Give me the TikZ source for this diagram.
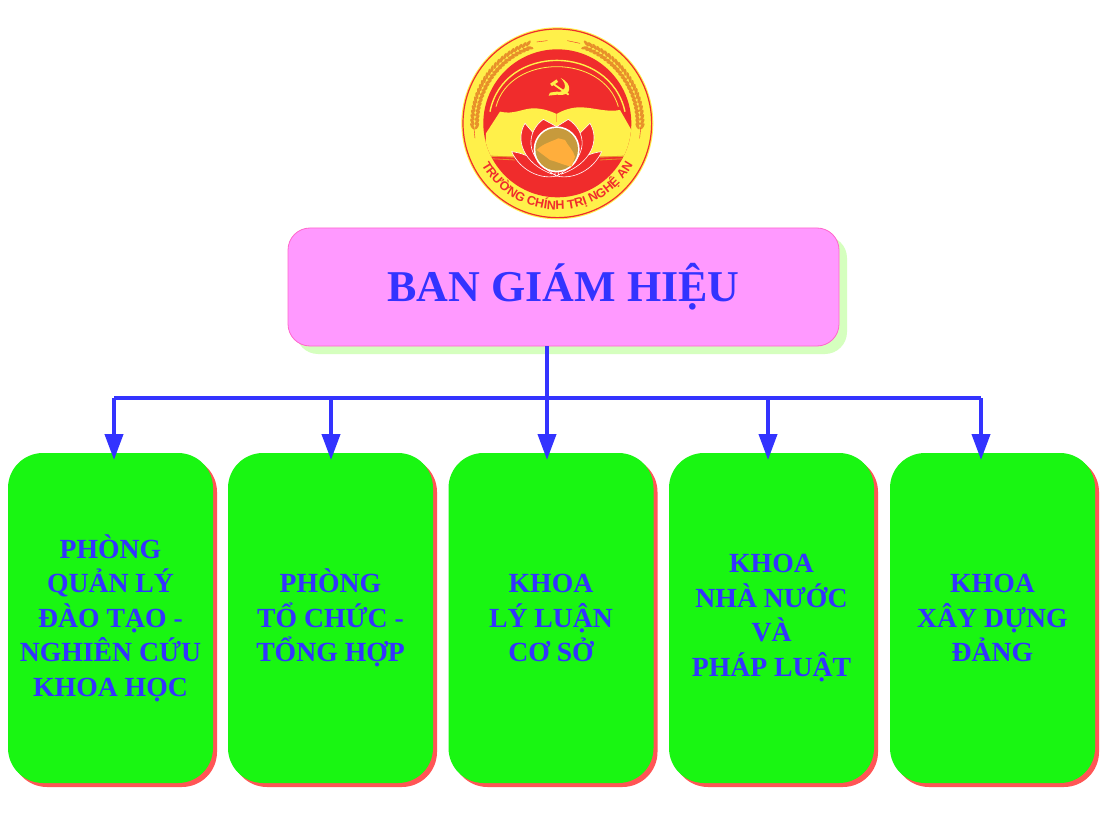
\documentclass[tikz,border=0pt]{standalone}
\usepackage{fontspec}
\setmainfont{Liberation Serif}
\newfontfamily\logofont{Liberation Sans}
\usetikzlibrary{arrows.meta,shadows,decorations.text}

\definecolor{boxgreen}{HTML}{19F612}
\definecolor{boxred}{HTML}{FF5555}
\definecolor{boxpink}{HTML}{FF99FF}
\definecolor{boxedge}{HTML}{FF66CC}
\definecolor{boxblue}{HTML}{3333FF}
\definecolor{palegreen}{HTML}{D5FFBE}
\definecolor{logored}{HTML}{F02C2C}
\definecolor{logoyellow}{HTML}{FFF04A}
\definecolor{logogold}{HTML}{C79A3C}
\definecolor{logoorange}{HTML}{FFAE3C}
\definecolor{logowheat}{HTML}{E8902A}

\def\logoring{(352,370) circle (288)}
\def\logoinner{(352,370) circle (222)}
\def\logoglobe{(350,448) circle (64)}

\tikzset{
  headbox/.style={draw=boxedge, line width=0.8pt, fill=boxpink, rounded corners=22pt,
    minimum width=551pt, minimum height=118pt, text=boxblue,
    font=\fontsize{44}{50}\selectfont\bfseries,
    general shadow={fill=palegreen, shadow xshift=8pt, shadow yshift=-8pt}},
  unitbox/.style={fill=boxgreen, rounded corners=35pt, minimum width=205pt, minimum height=330pt,
    text=boxblue, align=center, inner sep=0pt,
    font=\fontsize{27.7}{34.5}\selectfont\bfseries,
    general shadow={fill=boxred, shadow xshift=4pt, shadow yshift=-4pt}},
  busline/.style={draw=boxblue, line width=4pt, line cap=square},
  dropline/.style={draw=boxblue, line width=4pt, -{Triangle[length=26pt,width=18pt]}},
  petal/.style={fill=logored, draw=white, line width=0.6pt},
}

\begin{document}
\begin{tikzpicture}[x=1pt,y=1pt]
  \useasboundingbox[fill=white] (0,0) rectangle (1102,-826);

  % logo
  \begin{scope}[shift={(440,0)},x=0.3333pt,y=-0.3333pt]
    \fill[logoyellow] \logoring;
    \draw[logored, line width=1.2pt] (352,370) circle (283);
    \fill[logored] \logoinner;
    \begin{scope}
      \clip \logoinner;
      \draw[logoyellow, line width=1.4pt] (150,335) .. controls (190,130) and (510,130) .. (555,335);
      \draw[logoyellow, line width=0.8pt] (168,320) .. controls (210,160) and (490,160) .. (535,320);
      % open book
      \fill[logoyellow] (138,400) -- (180,335) .. controls (220,345) and (250,325) .. (280,325)
        .. controls (310,325) and (335,335) .. (350,342) .. controls (370,330) and (395,322) .. (420,322)
        .. controls (460,322) and (500,338) .. (540,330) -- (580,400) -- (570,470) -- (135,470) -- cycle;
      \draw[logowheat, line width=0.8pt] (150,468) -- (225,472) (150,476) -- (225,480)
        (555,468) -- (480,472) (555,476) -- (480,480);
    \end{scope}
    \draw[logoorange, line width=1pt] (350,342) -- (350,366);
    % lotus
    \draw[petal] (215,455) .. controls (280,462) and (320,510) .. (350,528) .. controls (300,540) and (240,510) .. (215,455) -- cycle;
    \draw[petal] (485,455) .. controls (420,462) and (380,510) .. (350,528) .. controls (400,540) and (460,510) .. (485,455) -- cycle;
    \draw[petal] (255,370) .. controls (225,420) and (250,490) .. (335,522) -- (285,405) -- cycle;
    \draw[petal] (450,370) .. controls (480,420) and (455,490) .. (365,522) -- (415,405) -- cycle;
    \draw[petal] (310,358) .. controls (260,395) and (250,470) .. (345,525) -- (350,380) -- cycle;
    \draw[petal] (385,358) .. controls (440,395) and (450,470) .. (355,525) -- (350,380) -- cycle;
    \fill[white] (350,448) circle (69);
    \fill[logogold] \logoglobe;
    \fill[logoorange] (290,450) .. controls (310,430) and (335,425) .. (355,415) -- (375,420)
      .. controls (385,440) and (400,450) .. (405,470) -- (395,500) .. controls (370,495) and (350,485) .. (330,480) -- cycle;
    % hammer and sickle
    \draw[logoyellow, line width=1.8pt] (340,252) -- (386,284);
    \draw[logoyellow, line width=3pt] (333,255) -- (352,242);
    \fill[logoyellow] (362,234) .. controls (398,250) and (398,292) .. (352,284) -- (326,287) -- (330,278)
      -- (350,275) .. controls (375,280) and (385,255) .. (362,234) -- cycle;
    % wheat
    \foreach \s in {1,-1}{
      \foreach \a in {20,23,...,92}{
        \fill[logowheat, rotate around={\s*\a:(352,370)}, shift={(352,115)}, rotate=\s*30] (0,0) ellipse (11 and 4.5);
        \fill[logowheat, rotate around={\s*\a:(352,370)}, shift={(352,129)}, rotate=-\s*30] (0,0) ellipse (11 and 4.5);
      }
    }
    \draw[logored, line width=0.4pt] (290,126) -- (322,122) (382,122) -- (420,130)
      (102,385) -- (105,415) (602,385) -- (599,415);
    \path[decorate, decoration={text along path, text align=center,
      text={|\logofont\bfseries\fontsize{12.5}{12.5}\selectfont\color{logored}|TRƯỜNG CHÍNH TRỊ NGHỆ AN}}]
      (352,370) ++(153:259) arc[start angle=153, end angle=27, radius=259];
  \end{scope}

  % boxes
  \node[headbox] (bgh) at (563.5,-287) {BAN GIÁM HIỆU};
  \node[unitbox] (qldt) at (110.5,-618) {PHÒNG\\QUẢN LÝ\\ĐÀO TẠO -\\NGHIÊN CỨU\\KHOA HỌC};
  \node[unitbox] (tcth) at (330.5,-618) {PHÒNG\\TỔ CHỨC -\\TỔNG HỢP};
  \node[unitbox] (llcs) at (551,-618) {KHOA\\LÝ LUẬN\\CƠ SỞ};
  \node[unitbox] (nnpl) at (771.5,-618) {KHOA\\NHÀ NƯỚC\\VÀ\\PHÁP LUẬT};
  \node[unitbox] (xddd) at (992.5,-618) {KHOA\\XÂY DỰNG\\ĐẢNG};

  % connectors
  \foreach \x/\t in {114/a,331/b,547/c,768/d,981/e}{
    \coordinate (bus\t) at (\x,-398);
    \coordinate (tip\t) at (\x,-460);
    \draw[dropline] (bus\t) -- (tip\t);
  }
  \draw[busline] (busa) -- (buse);
  \draw[busline, line cap=butt] (busc |- bgh.south) -- (busc);
\end{tikzpicture}
\end{document}
